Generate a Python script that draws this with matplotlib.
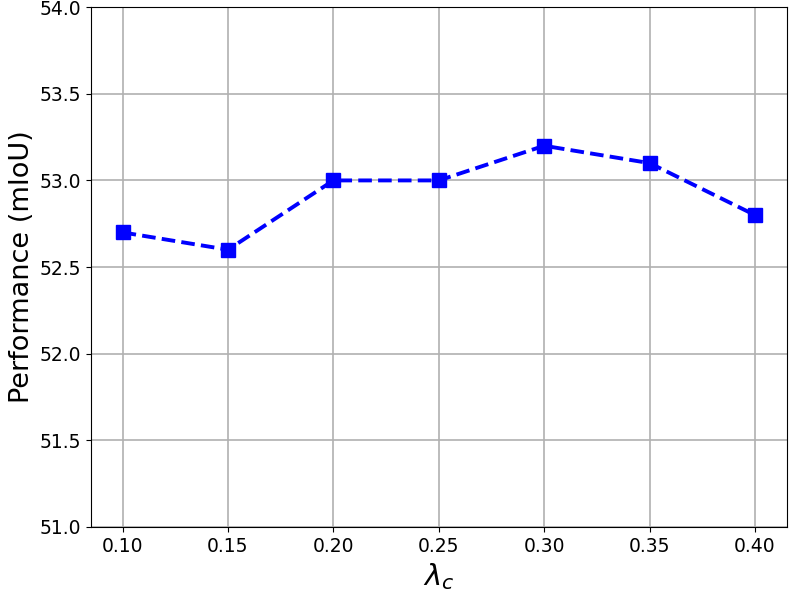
import matplotlib
matplotlib.use('Agg')
import matplotlib.pyplot as plt

# lambda_c sweep
lambdas = [0.10, 0.15, 0.20, 0.25, 0.30, 0.35, 0.40]
miou = [52.7, 52.6, 53.0, 53.0, 53.2, 53.1, 52.8]
xtick_labels = ['0.10', '0.15', '0.20', '0.25', '0.30', '0.35', '0.40']

fig = plt.figure(figsize=(7.89, 5.95), dpi=100)
ax = fig.add_axes([0.1153, 0.1143, 0.8817, 0.8737])

ax.plot(lambdas, miou, 's--', color='blue', linewidth=2.8, markersize=9.5,
        dashes=(3.5, 1.6))
ax.set_ylim(51.0, 54.0)
ax.set_xticks(lambdas)
ax.set_xticklabels(xtick_labels)
ax.tick_params(labelsize=13.5)
ax.grid(True, color='#b0b0b0', linewidth=1.2)
ax.set_axisbelow(True)

ax.set_xlabel(r'$\lambda_c$', fontsize=21)
ax.set_ylabel('Performance (mIoU)', fontsize=19.5, labelpad=3)

fig.savefig('out.png', dpi=100)
